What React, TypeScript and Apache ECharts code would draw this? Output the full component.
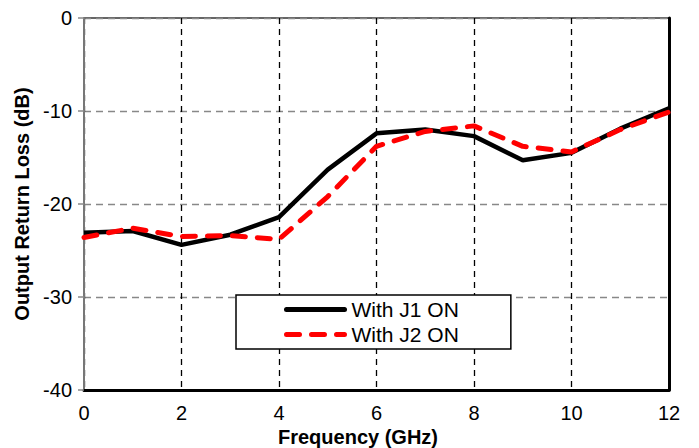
import React, { useEffect, useRef } from "react";
import * as echarts from "echarts";

const freqs = [0, 1, 2, 3, 4, 5, 6, 7, 8, 9, 10, 11, 12];
const j1On = [-23.1, -22.9, -24.4, -23.3, -21.4, -16.3, -12.4, -12.0, -12.7, -15.3, -14.5, -11.9, -9.7];
const j2On = [-23.6, -22.6, -23.5, -23.4, -23.8, -19.2, -13.8, -12.2, -11.6, -13.8, -14.4, -12.0, -10.1];
const seriesNames = ["With J1 ON", "With J2 ON"];
const yTitle = "Output Return Loss (dB)";
const xTitle = "Frequency (GHz)";

const FONT = "'Liberation Sans', Arial, sans-serif";

export default function App() {
  const ref = useRef<HTMLDivElement>(null);
  useEffect(() => {
    if (!ref.current) return;
    const chart = echarts.init(ref.current, undefined, { renderer: "svg" });
    chart.setOption({
      animation: false,
      backgroundColor: "#ffffff",
      grid: {
        left: 84,
        right: 30,
        top: 18,
        bottom: 58,
        show: true,
        borderColor: "#666666",
        borderWidth: 2,
      },
      xAxis: {
        type: "value",
        min: 0,
        max: 12,
        interval: 2,
        axisLine: { show: true, onZero: false, lineStyle: { color: "#000", width: 3 } },
        axisTick: { show: false },
        axisLabel: { color: "#000", fontSize: 20, lineHeight: 20, fontFamily: FONT, margin: 13 },
        splitLine: { show: true, lineStyle: { color: "#000", type: [6, 5], width: 1.3 } },
      },
      yAxis: [
        {
          type: "value",
          min: -40,
          max: 0,
          interval: 10,
          name: yTitle,
          nameLocation: "middle",
          nameGap: 51,
          nameTextStyle: { color: "#000", fontSize: 20, fontWeight: "bold", fontFamily: FONT },
          axisLine: { show: true, lineStyle: { color: "#777", width: 2 } },
          axisTick: { show: true, length: 6, lineStyle: { color: "#888", width: 1.5 } },
          axisLabel: { color: "#000", fontSize: 20, fontFamily: FONT, margin: 12 },
          splitLine: { show: true, lineStyle: { color: "#888", type: [7, 5], width: 1.3 } },
        },
        {
          type: "value",
          min: -40,
          max: 0,
          interval: 10,
          position: "right",
          axisLine: { show: true, lineStyle: { color: "#000", width: 3 } },
          axisTick: { show: false },
          axisLabel: { show: false },
          splitLine: { show: false },
        },
      ],
      legend: {
        orient: "vertical",
        left: 236,
        top: 295,
        padding: [4, 52, 4, 48],
        itemWidth: 58,
        itemHeight: 14,
        itemGap: 4,
        backgroundColor: "#fff",
        borderColor: "#000",
        borderWidth: 1.5,
        borderRadius: 0,
        itemStyle: { opacity: 0 },
        lineStyle: { width: 5, cap: "round" },
        textStyle: { color: "#000", fontSize: 21, fontFamily: FONT, padding: [0, 0, 0, 2] },
        data: seriesNames,
      },
      graphic: [
        {
          type: "text",
          x: 358,
          y: 437,
          style: {
            text: xTitle,
            fill: "#000",
            font: `bold 20px ${FONT}`,
            lineHeight: 20,
            align: "center",
            verticalAlign: "middle",
          },
        },
      ],
      series: [
        {
          name: seriesNames[0],
          type: "line",
          symbol: "none",
          data: freqs.map((f, i) => [f, j1On[i]]),
          lineStyle: { color: "#000", width: 4.5 },
          itemStyle: { color: "#000" },
          z: 3,
        },
        {
          name: seriesNames[1],
          type: "line",
          symbol: "none",
          data: freqs.map((f, i) => [f, j2On[i]]),
          lineStyle: { color: "#ff0000", width: 5, type: [13, 12], cap: "round" },
          itemStyle: { color: "#ff0000" },
          z: 4,
        },
      ],
    });
    return () => chart.dispose();
  }, []);
  return <div ref={ref} style={{ width: 699, height: 448, position: "absolute", left: 0, top: 0 }} />;
}
